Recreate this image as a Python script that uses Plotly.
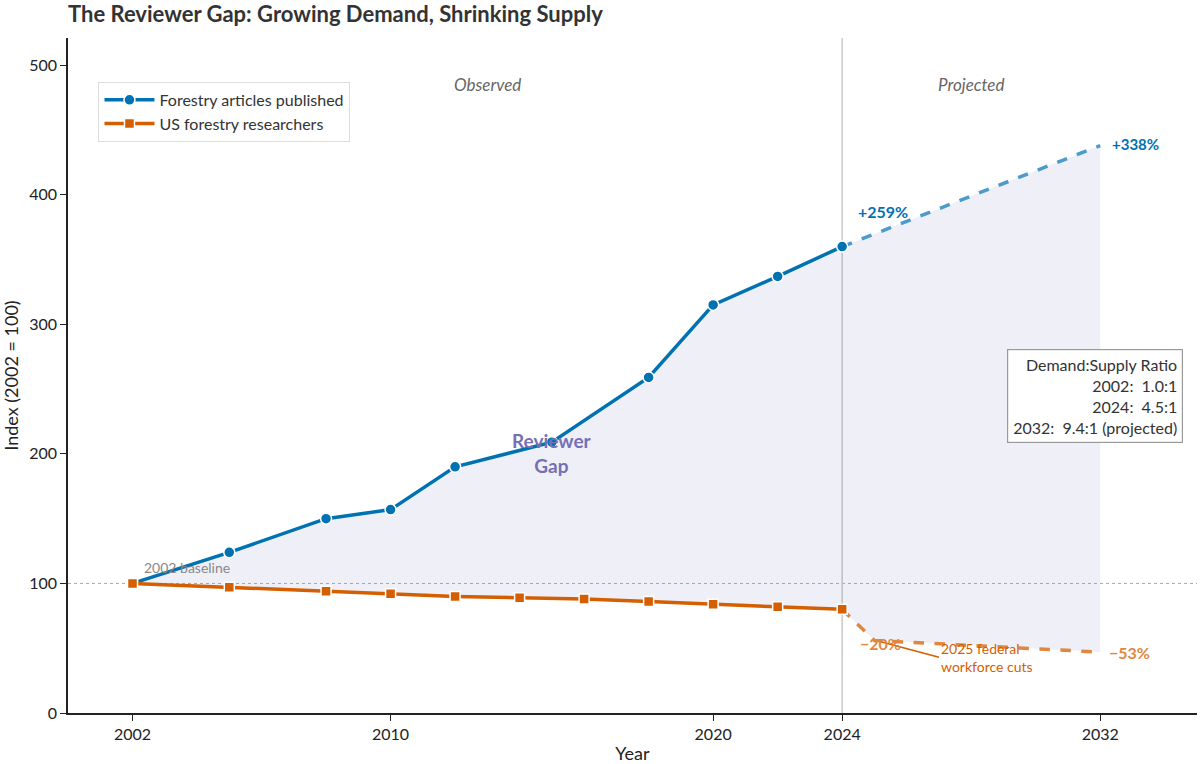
import plotly.graph_objects as go

# ---- data ----
article_years = [2002, 2005, 2008, 2010, 2012, 2015, 2018, 2020, 2022, 2024]
articles = [100, 124, 150, 157, 190, 209, 259, 315, 337, 360]
article_proj_years = [2024, 2032]
article_proj = [360, 438]

research_years = [2002, 2005, 2008, 2010, 2012, 2014, 2016, 2018, 2020, 2022, 2024]
researchers = [100, 97, 94, 92, 90, 89, 88, 86, 84, 82, 80]
research_proj_years = [2024, 2025, 2032]
research_proj = [80, 56, 47]

x_ticks = [2002, 2010, 2020, 2024, 2032]
y_ticks = [0, 100, 200, 300, 400, 500]

BLUE = "#0072B2"
BLUE_P = "#4b9bcb"
ORANGE = "#D55E00"
ORANGE_P = "#e0873f"
FONT = "Lato"

fig = go.Figure()

# gap fill polygon
top_x = article_years + article_proj_years[1:]
top_y = articles + article_proj[1:]
bot_x = research_years + research_proj_years[1:]
bot_y = researchers + research_proj[1:]
fig.add_trace(go.Scatter(
    x=top_x + bot_x[::-1], y=top_y + bot_y[::-1],
    fill="toself", fillcolor="rgba(120,120,195,0.12)",
    line=dict(width=0), mode="lines", hoverinfo="skip", showlegend=False))

# projections
fig.add_trace(go.Scatter(x=article_proj_years, y=article_proj, mode="lines",
                         line=dict(color=BLUE_P, width=3.5, dash="dash"), showlegend=False))
fig.add_trace(go.Scatter(x=research_proj_years, y=research_proj, mode="lines",
                         line=dict(color=ORANGE_P, width=3.5, dash="dash"), showlegend=False))

# observed
fig.add_trace(go.Scatter(x=article_years, y=articles, mode="lines+markers",
                         name="Forestry articles published",
                         line=dict(color=BLUE, width=3.5),
                         marker=dict(symbol="circle", size=11, color=BLUE,
                                     line=dict(color="white", width=1.5))))
fig.add_trace(go.Scatter(x=research_years, y=researchers, mode="lines+markers",
                         name="US forestry researchers",
                         line=dict(color=ORANGE, width=3.5),
                         marker=dict(symbol="square", size=10, color=ORANGE,
                                     line=dict(color="white", width=1.5))))

# reference lines
fig.add_shape(type="line", xref="paper", x0=0, x1=1, y0=100, y1=100,
              line=dict(color="#aaaaaa", width=1, dash="dot"), layer="below")
fig.add_shape(type="line", yref="paper", x0=2024, x1=2024, y0=0, y1=1,
              line=dict(color="#c8c8c8", width=1.5), layer="below")

ann = []
ann.append(dict(x=2013, y=485, text="<i>Observed</i>", showarrow=False,
                font=dict(size=17, color="#666666")))
ann.append(dict(x=2028, y=485, text="<i>Projected</i>", showarrow=False,
                font=dict(size=17, color="#666666")))
ann.append(dict(x=2025.27, y=387, text="<b>+259%</b>", showarrow=False,
                font=dict(size=16, color=BLUE)))
ann.append(dict(x=2032.3, y=439, text="<b>+338%</b>", showarrow=False, xanchor="left",
                font=dict(size=15, color=BLUE)))
ann.append(dict(x=2032.2, y=47, text="<b>\u221253%</b>", showarrow=False, xanchor="left",
                font=dict(size=16, color=ORANGE_P)))
ann.append(dict(x=2025.2, y=55, text="2025 federal<br>workforce cuts", showarrow=True,
                xanchor="left", align="left", ax=2027.0, ay=43, axref="x", ayref="y",
                arrowhead=0, arrowwidth=1.5, arrowcolor=ORANGE, standoff=0,
                font=dict(size=14, color=ORANGE)))
ann.append(dict(x=2025.2, y=54, text="<b>\u221220%</b>", showarrow=False,
                font=dict(size=16, color=ORANGE_P)))
ann.append(dict(x=2015, y=201, text="<b>Reviewer<br>Gap</b>", showarrow=False,
                font=dict(size=19, color="#7570b3")))
ann.append(dict(x=2002.3, y=112, text="2002 baseline", showarrow=False, xanchor="left",
                font=dict(size=14, color="#888888")))
ann.append(dict(xref="paper", x=0.9876, y=245, xanchor="right", showarrow=False,
                text="Demand:Supply Ratio<br>2002:  1.0:1<br>2024:  4.5:1<br>2032:  9.4:1 (projected)",
                align="right", bgcolor="white", bordercolor="#999999", borderwidth=1.2,
                borderpad=5, font=dict(size=16, color="#333333")))

fig.update_layout(
    width=1200, height=764,
    margin=dict(l=68, r=3, t=38, b=51, autoexpand=False),
    paper_bgcolor="white", plot_bgcolor="white",
    font=dict(family=FONT, color="#222222"),
    title=dict(text="<b>The Reviewer Gap: Growing Demand, Shrinking Supply</b>",
               x=68/1200, xanchor="left", y=1-14/764, yanchor="middle",
               font=dict(size=22, color="#333333")),
    legend=dict(x=0.027, y=0.935, xanchor="left", yanchor="top",
                bgcolor="white", bordercolor="#dddddd", borderwidth=1,
                font=dict(size=16, color="#333333"), itemwidth=50,
                tracegroupgap=2),
    annotations=ann,
    showlegend=True,
)
fig.update_xaxes(range=[2000, 2035], tickvals=x_ticks, ticktext=[str(v) for v in x_ticks],
                 showgrid=False, zeroline=False, showline=True, linecolor="#222222",
                 linewidth=1.5, ticks="outside", ticklen=6, tickcolor="#222222",
                 tickfont=dict(size=16), title=dict(text="Year", font=dict(size=18), standoff=6))
fig.update_yaxes(range=[0, 521], tickvals=y_ticks, showgrid=False, zeroline=False,
                 showline=True, linecolor="#222222", linewidth=1.5, ticks="outside",
                 ticklen=6, tickcolor="#222222", tickfont=dict(size=16),
                 title=dict(text="Index (2002 = 100)", font=dict(size=18), standoff=6))

fig.write_html("out.html", config={"displayModeBar": False},
               post_script="document.body.style.margin='0';document.body.style.overflow='hidden';")
